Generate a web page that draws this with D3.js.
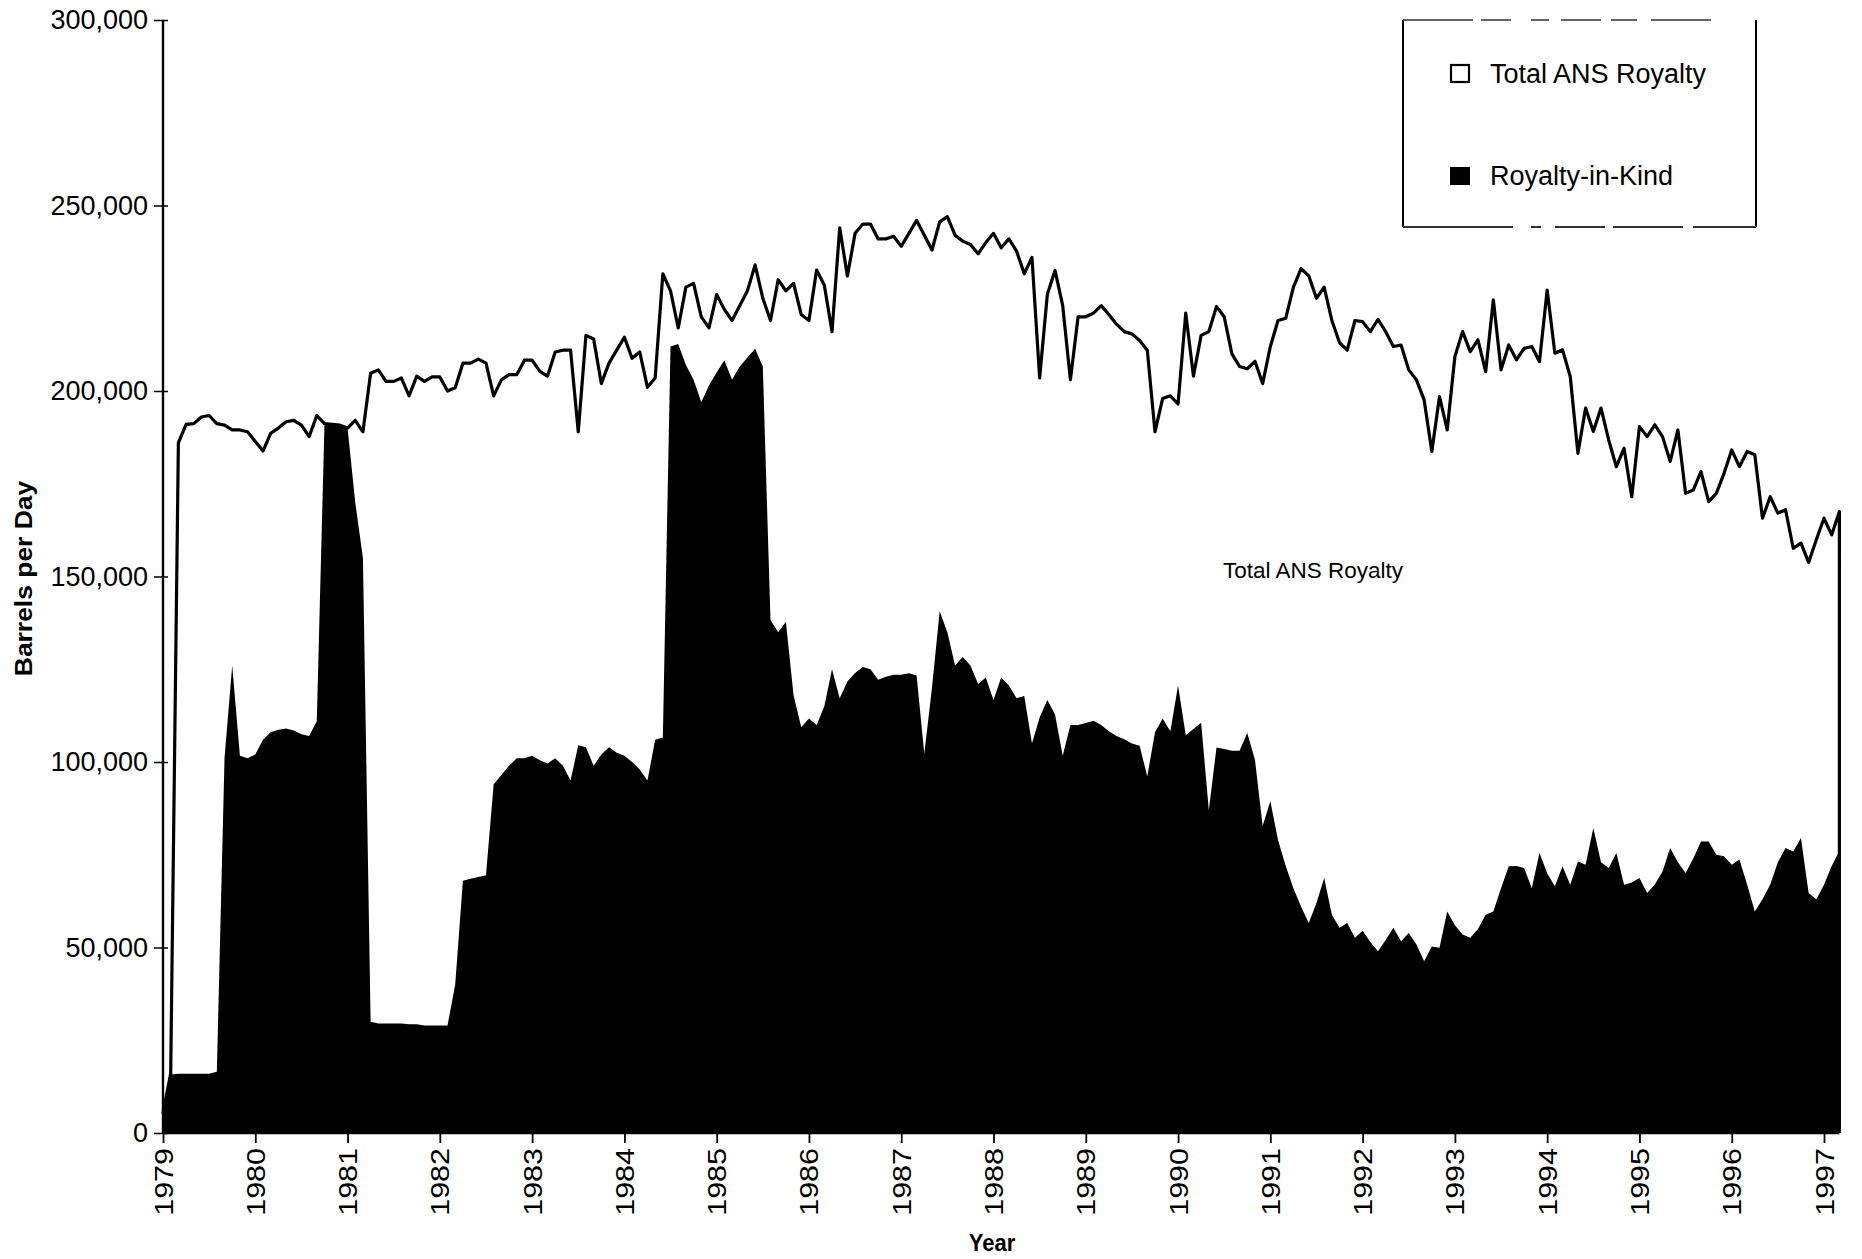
<!DOCTYPE html>
<html>
<head>
<meta charset="utf-8">
<script src="https://cdn.jsdelivr.net/npm/d3@7"></script>
<style>
  html, body { margin: 0; padding: 0; background: #fff; }
  svg { display: block; font-family: "Liberation Sans", Arial, Helvetica, sans-serif; }
</style>
</head>
<body>
<svg id="chart" width="1862" height="1259"></svg>
<script>
// ---------------- DATA (barrels per day, thousands; monthly from Jan 1979) ----------------
const startYear = 1979;

const totalRoyaltyK = [
  // 1979
  5.3, 16, 186, 191, 191.2, 193, 193.4, 191.2, 190.8, 189.5, 189.5, 189,
  // 1980
  186.4, 183.8, 188.6, 190, 191.7, 192.1, 190.8, 187.7, 193.4, 191.2, 191, 190.8,
  // 1981
  190, 192.1, 189, 204.8, 205.7, 202.6, 202.6, 203.5, 198.7, 204, 202.6, 203.8,
  // 1982
  203.8, 200, 200.9, 207.5, 207.5, 208.6, 207.5, 198.7, 203, 204.4, 204.4, 208.3,
  // 1983
  208.3, 205.3, 204, 210.5, 211, 211, 189, 215, 214, 202, 207.5, 211,
  // 1984
  214.5, 208.8, 210.5, 201, 203.5, 231.6, 227, 217, 228, 229, 220, 217,
  // 1985
  226, 222, 219, 223, 227, 234, 225, 219, 230, 227, 229, 220.6,
  // 1986
  219, 232.6, 228.5, 216, 244, 231, 242.5, 245, 245, 241, 241, 241.7,
  // 1987
  239, 242.5, 246, 242, 238, 245.6, 247, 242, 240.4, 239.5, 237, 240,
  // 1988
  242.5, 238.6, 241, 237.7, 231.6, 236, 203.5, 226, 232.5, 223, 203, 220,
  // 1989
  220, 221, 223, 220.6, 218, 216, 215.4, 213.6, 211, 189, 198, 198.7,
  // 1990
  196.5, 221, 204, 215, 216, 222.8, 220, 210, 206.6, 206, 208, 202,
  // 1991
  212, 219, 219.6, 228, 233, 231, 225, 228, 219, 213, 211, 219,
  // 1992
  218.7, 216, 219.3, 216, 212, 212.4, 205.7, 203, 197.6, 183.7, 198.5, 189.5,
  // 1993
  209.3, 216, 210.6, 213.8, 205.2, 224.6, 205.7, 212.4, 208.4, 211.5, 212, 207.9,
  // 1994
  227.2, 210.2, 211.1, 203.9, 183.2, 195.4, 189.1, 195.4, 186.8, 179.6, 184.6, 171.5,
  // 1995
  190.4, 187.7, 190.9, 187.7, 181, 189.5, 172.4, 173.3, 178.3, 170.2, 172.4, 177.8,
  // 1996
  184.1, 179.6, 183.7, 182.8, 165.7, 171.5, 167.1, 168, 157.6, 159, 153.8, 159.9,
  // 1997
  165.7, 161.2, 167.5
];

const royaltyInKindK = [
  // 1979
  5.3, 15.8, 16, 16, 16, 16, 16, 16.5, 101, 126, 101.7, 101,
  // 1980
  102, 106, 108, 108.7, 109, 108.5, 107.5, 107, 111, 191.2, 191, 190.8,
  // 1981
  190, 170, 155, 30, 29.5, 29.5, 29.5, 29.5, 29.3, 29.3, 29, 29,
  // 1982
  29, 29, 40, 68, 68.5, 69, 69.5, 94, 96.5, 99, 101, 101,
  // 1983
  101.7, 100.5, 99.6, 101, 99, 95, 104.5, 104, 99, 102, 104, 102.5,
  // 1984
  101.7, 100, 98, 95, 106, 106.6, 212, 212.7, 207, 203, 197, 201.5,
  // 1985
  205, 208.3, 203, 206.6, 209, 211.4, 206.6, 138.3, 135, 137.8, 118, 109.4,
  // 1986
  111.7, 110, 115, 125, 117.2, 121.7, 124, 125.6, 125, 122.2, 123, 123.5,
  // 1987
  123.5, 123.9, 123.3, 102.2, 120, 140.6, 135, 126, 128.3, 126, 121, 122.8,
  // 1988
  116.7, 122.8, 120.6, 117.2, 117.8, 105, 112, 116.7, 112.8, 101.7, 110, 110,
  // 1989
  110.5, 111.1, 110, 108.3, 107, 106.1, 105, 104.4, 96.1, 108, 111.7, 108.3,
  // 1990
  120.6, 107.2, 108.9, 110.6, 87, 103.9, 103.5, 103, 103, 107.8, 100.6, 82.8,
  // 1991
  89.4, 79, 72, 66, 61, 56.6, 62, 68.7, 58.8, 55.3, 56.6, 52.6,
  // 1992
  54.5, 51.5, 49, 52, 55.3, 51.7, 53.9, 50.8, 46.3, 50.3, 49.9, 59.7,
  // 1993
  56, 53.5, 52.6, 55, 58.8, 59.7, 66, 71.9, 72, 71.4, 66, 75.5,
  // 1994
  70, 66.5, 71.9, 66.9, 73.2, 72.3, 82.2, 73, 71.4, 75.5, 66.9, 67.5,
  // 1995
  68.7, 64.7, 67, 70.5, 76.8, 73, 70.1, 74, 78.6, 78.6, 75, 74.6,
  // 1996
  72.3, 73.7, 67, 59.7, 63, 66.9, 73, 76.8, 75.9, 79.5, 64.7, 63,
  // 1997
  66.9, 72, 76
];

const yearTicks = [1979, 1980, 1981, 1982, 1983, 1984, 1985, 1986, 1987, 1988,
                   1989, 1990, 1991, 1992, 1993, 1994, 1995, 1996, 1997];
const valueTicks = [0, 50000, 100000, 150000, 200000, 250000, 300000];
const legendLabels = ["Total ANS Royalty", "Royalty-in-Kind"];
const annotationText = "Total ANS Royalty";
const xTitle = "Year";
const yTitle = "Barrels per Day";

// ---------------- CHART ----------------
const svg = d3.select("#chart");
const font = '"Liberation Sans", Arial, Helvetica, sans-serif';

const x = d3.scaleLinear().domain([1979, 1997]).range([163, 1824]);
const y = d3.scaleLinear().domain([0, 300000]).range([1133, 20]);

const toPoints = arr => arr.map((v, i) => ({ t: startYear + i / 12, v: v * 1000 }));
const totalPts = toPoints(totalRoyaltyK);
const rikPts = toPoints(royaltyInKindK);

// Royalty-in-Kind black area
svg.append("path")
  .datum(rikPts)
  .attr("fill", "#000")
  .attr("d", d3.area().x(d => x(d.t)).y0(y(0)).y1(d => y(d.v)));

// Total ANS Royalty line (ends with a drop to the baseline, as in the original)
const last = totalPts[totalPts.length - 1];
const lineData = totalPts.concat([{ t: last.t, v: 0 }]);
svg.append("path")
  .datum(lineData)
  .attr("fill", "none")
  .attr("stroke", "#000")
  .attr("stroke-width", 3.2)
  .attr("stroke-linejoin", "round")
  .attr("d", d3.line().x(d => x(d.t)).y(d => y(d.v)));

// Y axis
const yAxisG = svg.append("g")
  .attr("transform", `translate(${x(1979)},0)`)
  .call(d3.axisLeft(y).tickValues(valueTicks).tickFormat(d3.format(",")).tickSize(9).tickPadding(6));
yAxisG.select(".domain").remove();
yAxisG.selectAll(".tick line").attr("x1", -9).attr("x2", 5).attr("stroke", "#000").attr("stroke-width", 1.5);
yAxisG.selectAll(".tick text")
  .attr("font-family", font).attr("font-size", 27).attr("fill", "#000");
yAxisG.append("line")
  .attr("x1", 0).attr("x2", 0).attr("y1", y(0)).attr("y2", y(300000))
  .attr("stroke", "#000").attr("stroke-width", 2.4);

// X axis
const xAxisG = svg.append("g")
  .attr("transform", `translate(0,${y(0)})`)
  .call(d3.axisBottom(x).tickValues(yearTicks).tickFormat(d3.format("d")).tickSize(10));
xAxisG.select(".domain").remove();
xAxisG.append("line")
  .attr("x1", x(1979)).attr("x2", x(last.t)).attr("y1", 0).attr("y2", 0)
  .attr("stroke", "#000").attr("stroke-width", 2.4);
xAxisG.selectAll(".tick line").attr("stroke", "#000").attr("stroke-width", 1.8);
xAxisG.selectAll(".tick text")
  .attr("font-family", font).attr("font-size", 25).attr("fill", "#000")
  .attr("text-anchor", "end")
  .attr("x", 0).attr("y", 0).attr("dy", "0.36em")
  .attr("transform", "translate(0,15) rotate(-90) scale(1.22,1)");

// Axis titles
svg.append("text")
  .attr("transform", `translate(32,${(480 + 677) / 2}) rotate(-90) scale(1.15,1)`)
  .attr("text-anchor", "middle")
  .attr("font-family", font).attr("font-weight", "bold").attr("font-size", 23)
  .text(yTitle);

svg.append("text")
  .attr("transform", "translate(992,1251) scale(1,1.12)")
  .attr("text-anchor", "middle")
  .attr("font-family", font).attr("font-weight", "bold").attr("font-size", 22)
  .text(xTitle);

// In-plot annotation
svg.append("text")
  .attr("x", 1313).attr("y", 578)
  .attr("text-anchor", "middle")
  .attr("font-family", font).attr("font-size", 22.5)
  .text(annotationText);

// Legend
const lg = svg.append("g");
const lx0 = 1403, lx1 = 1756, ly0 = 20, ly1 = 227;
lg.append("line").attr("x1", lx0).attr("x2", lx0).attr("y1", ly0).attr("y2", ly1)
  .attr("stroke", "#000").attr("stroke-width", 2);
lg.append("line").attr("x1", lx1).attr("x2", lx1).attr("y1", ly0).attr("y2", ly1)
  .attr("stroke", "#000").attr("stroke-width", 2);
lg.append("line").attr("x1", lx0).attr("x2", lx1).attr("y1", ly0).attr("y2", ly0)
  .attr("stroke", "#333").attr("stroke-width", 1.5).attr("stroke-dasharray", "70 8 30 20 18 12 40 10 26 14 60");
lg.append("line").attr("x1", lx0).attr("x2", lx1).attr("y1", ly1).attr("y2", ly1)
  .attr("stroke", "#333").attr("stroke-width", 1.8).attr("stroke-dasharray", "110 18 10 14 50 8 70 10 80");

lg.append("rect").attr("x", 1451).attr("y", 65).attr("width", 18).attr("height", 17)
  .attr("fill", "#fff").attr("stroke", "#000").attr("stroke-width", 2.2);
lg.append("rect").attr("x", 1450).attr("y", 167).attr("width", 20).attr("height", 18)
  .attr("fill", "#000");
lg.append("text").attr("x", 1490).attr("y", 83)
  .attr("font-family", font).attr("font-size", 27).text(legendLabels[0]);
lg.append("text").attr("x", 1490).attr("y", 185)
  .attr("font-family", font).attr("font-size", 27).text(legendLabels[1]);
</script>
</body>
</html>
